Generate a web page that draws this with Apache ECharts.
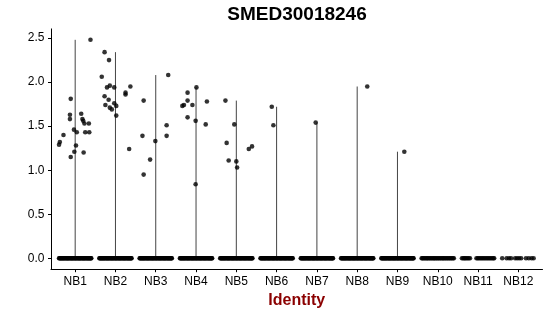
<!DOCTYPE html>
<html><head><meta charset="utf-8">
<script src="https://cdn.jsdelivr.net/npm/echarts@6/dist/echarts.min.js"></script>
<style>html,body{margin:0;padding:0;background:#fff}#c{width:550px;height:316px}</style>
</head><body><div id="c"></div>
<script>
const chartTitle = 'SMED30018246';
const axisTitle = 'Identity';
const categories = ['NB1','NB2','NB3','NB4','NB5','NB6','NB7','NB8','NB9','NB10','NB11','NB12'];
const yTicks = [0, 0.5, 1, 1.5, 2, 2.5];

// non-zero expression values per identity
const nb1Values = [2.48,1.81,1.63,1.58,1.46,1.43,1.28,1.15,1.21,1.40,1.32,1.29,1.64,1.58,1.56,1.53,1.53,1.43,1.43,1.20];
const nb1Jitter = [0.38,-0.11,-0.13,-0.13,-0.03,0.04,0.02,-0.11,-0.02,-0.29,-0.38,-0.40,0.15,0.18,0.20,0.23,0.34,0.25,0.35,0.21];
const nb2Values = [2.34,2.25,2.06,1.94,1.96,1.94,1.95,1.84,1.80,1.88,1.86,1.74,1.71,1.69,1.76,1.73,1.62,1.24];
const nb2Jitter = [-0.27,-0.16,-0.34,-0.21,-0.14,-0.03,0.37,-0.27,-0.17,0.25,0.25,-0.25,-0.14,-0.09,-0.03,0.02,0.02,0.34];
const nb3Values = [1.79,1.39,0.95,1.12,1.33,1.51,1.39,2.08];
const nb3Jitter = [-0.30,-0.33,-0.30,-0.14,-0.01,0.27,0.27,0.31];
const nb4Values = [1.73,1.74,1.88,1.79,1.74,1.60,1.56,1.94,1.78,1.52,0.84];
const nb4Jitter = [-0.34,-0.30,-0.21,-0.21,-0.09,-0.21,-0.01,0.01,0.27,0.24,-0.01];
const nb5Values = [1.79,1.52,1.31,1.11,1.10,1.03,1.24,1.27];
const nb5Jitter = [-0.27,-0.05,-0.24,-0.19,0.00,0.02,0.31,0.39];
const nb6Values = [1.72,1.51];
const nb6Jitter = [-0.12,-0.08];
const nb7Values = [1.54];
const nb7Jitter = [-0.03];
const nb8Values = [1.95];
const nb8Jitter = [0.25];
const nb9Values = [1.21];
const nb9Jitter = [0.17];

// horizontal jitter of the many zero-valued cells
const denseZeroJitter = [-0.40,-0.39,-0.37,-0.36,-0.34,-0.33,-0.31,-0.30,-0.28,-0.27,-0.25,-0.23,-0.22,-0.20,-0.19,-0.17,-0.16,-0.14,-0.12,-0.11,-0.09,-0.08,-0.06,-0.05,-0.03,-0.01,0.00,0.02,0.03,0.05,0.07,0.08,0.10,0.11,0.13,0.14,0.16,0.18,0.19,0.21,0.22,0.24,0.25,0.27,0.29,0.30,0.32,0.33,0.35,0.36,0.38,0.39,0.40];
const nb10ZeroJitter = [-0.40,-0.38,-0.36,-0.33,-0.31,-0.28,-0.26,-0.24,-0.21,-0.19,-0.16,-0.14,-0.11,-0.09,-0.07,-0.04,-0.02,0.01,0.03,0.06,0.08,0.11,0.13,0.15,0.18,0.20,0.23,0.25,0.28,0.30,0.33,0.35,0.38,0.40];
const nb11ZeroJitter = [-0.40,-0.37,-0.34,-0.32,-0.29,-0.26,-0.23,-0.20,-0.04,-0.01,0.02,0.05,0.08,0.11,0.14,0.17,0.20,0.23,0.26,0.29,0.32,0.35,0.38,0.40];
const nb12ZeroJitter = [-0.40,-0.29,-0.23,-0.18,-0.08,-0.03,0.02,0.07,0.19,0.26,0.33,0.38];

const groupValues = [nb1Values,nb2Values,nb3Values,nb4Values,nb5Values,nb6Values,nb7Values,nb8Values,nb9Values,[],[],[]];
const groupJitter = [nb1Jitter,nb2Jitter,nb3Jitter,nb4Jitter,nb5Jitter,nb6Jitter,nb7Jitter,nb8Jitter,nb9Jitter,[],[],[]];
const groupZeroJitter = [denseZeroJitter,denseZeroJitter,denseZeroJitter,denseZeroJitter,denseZeroJitter,denseZeroJitter,denseZeroJitter,denseZeroJitter,denseZeroJitter,nb10ZeroJitter,nb11ZeroJitter,nb12ZeroJitter];

const points = [];
categories.forEach((c, i) => {
  groupZeroJitter[i].forEach(z => points.push([i + z, 0]));
  groupValues[i].forEach((v, k) => points.push([i + groupJitter[i][k], v]));
});
const violinTops = [];
categories.forEach((c, i) => {
  if (groupValues[i].length) violinTops.push([i, Math.max.apply(null, groupValues[i])]);
});
const catIdx = categories.map((c, i) => i);
const FONT = '"Liberation Sans", Arial, Helvetica, sans-serif';

const chart = echarts.init(document.getElementById('c'), null, {renderer: 'canvas'});
chart.setOption({
  animation: false,
  backgroundColor: '#fff',
  title: {
    text: chartTitle, left: 297, top: 14.5, padding: 0,
    textAlign: 'center', textVerticalAlign: 'middle',
    textStyle: {fontSize: 19, fontWeight: 'bold', color: '#000', fontFamily: FONT}
  },
  grid: {left: 51, top: 28.9, width: 491.5, height: 240.3, containLabel: false},
  xAxis: {
    type: 'value', min: -0.6, max: 11.6,
    name: axisTitle, nameLocation: 'middle', nameGap: 22,
    nameTextStyle: {color: '#8B0000', fontWeight: 'bold', fontSize: 16, fontFamily: FONT},
    axisLine: {show: true, onZero: false, lineStyle: {color: '#000', width: 1}},
    axisTick: {show: true, customValues: catIdx, length: 3, lineStyle: {color: '#000', width: 1}},
    axisLabel: {show: true, customValues: catIdx, formatter: v => categories[Math.round(v)],
      fontSize: 12, color: '#000', margin: 6.5, fontFamily: FONT},
    splitLine: {show: false}
  },
  yAxis: {
    type: 'value', min: -0.124, max: 2.604,
    axisLine: {show: true, onZero: false, lineStyle: {color: '#000', width: 1}},
    axisTick: {show: true, customValues: yTicks, length: 3, lineStyle: {color: '#000', width: 1}},
    axisLabel: {show: true, customValues: yTicks, formatter: v => v.toFixed(1),
      fontSize: 12, color: '#000', margin: 6.5, fontFamily: FONT},
    splitLine: {show: false}
  },
  series: [
    {
      type: 'custom', data: violinTops, z: 1,
      renderItem: (params, api) => {
        const p0 = api.coord([api.value(0), 0]);
        const p1 = api.coord([api.value(0), api.value(1)]);
        return {type: 'line', shape: {x1: p0[0], y1: p0[1], x2: p1[0], y2: p1[1]},
          style: {stroke: '#444', lineWidth: 1}};
      }
    },
    {
      type: 'scatter', data: points, z: 2, symbol: 'circle', symbolSize: 4.6,
      itemStyle: {color: '#000'}, emphasis: {disabled: true}
    }
  ]
});
</script></body></html>
